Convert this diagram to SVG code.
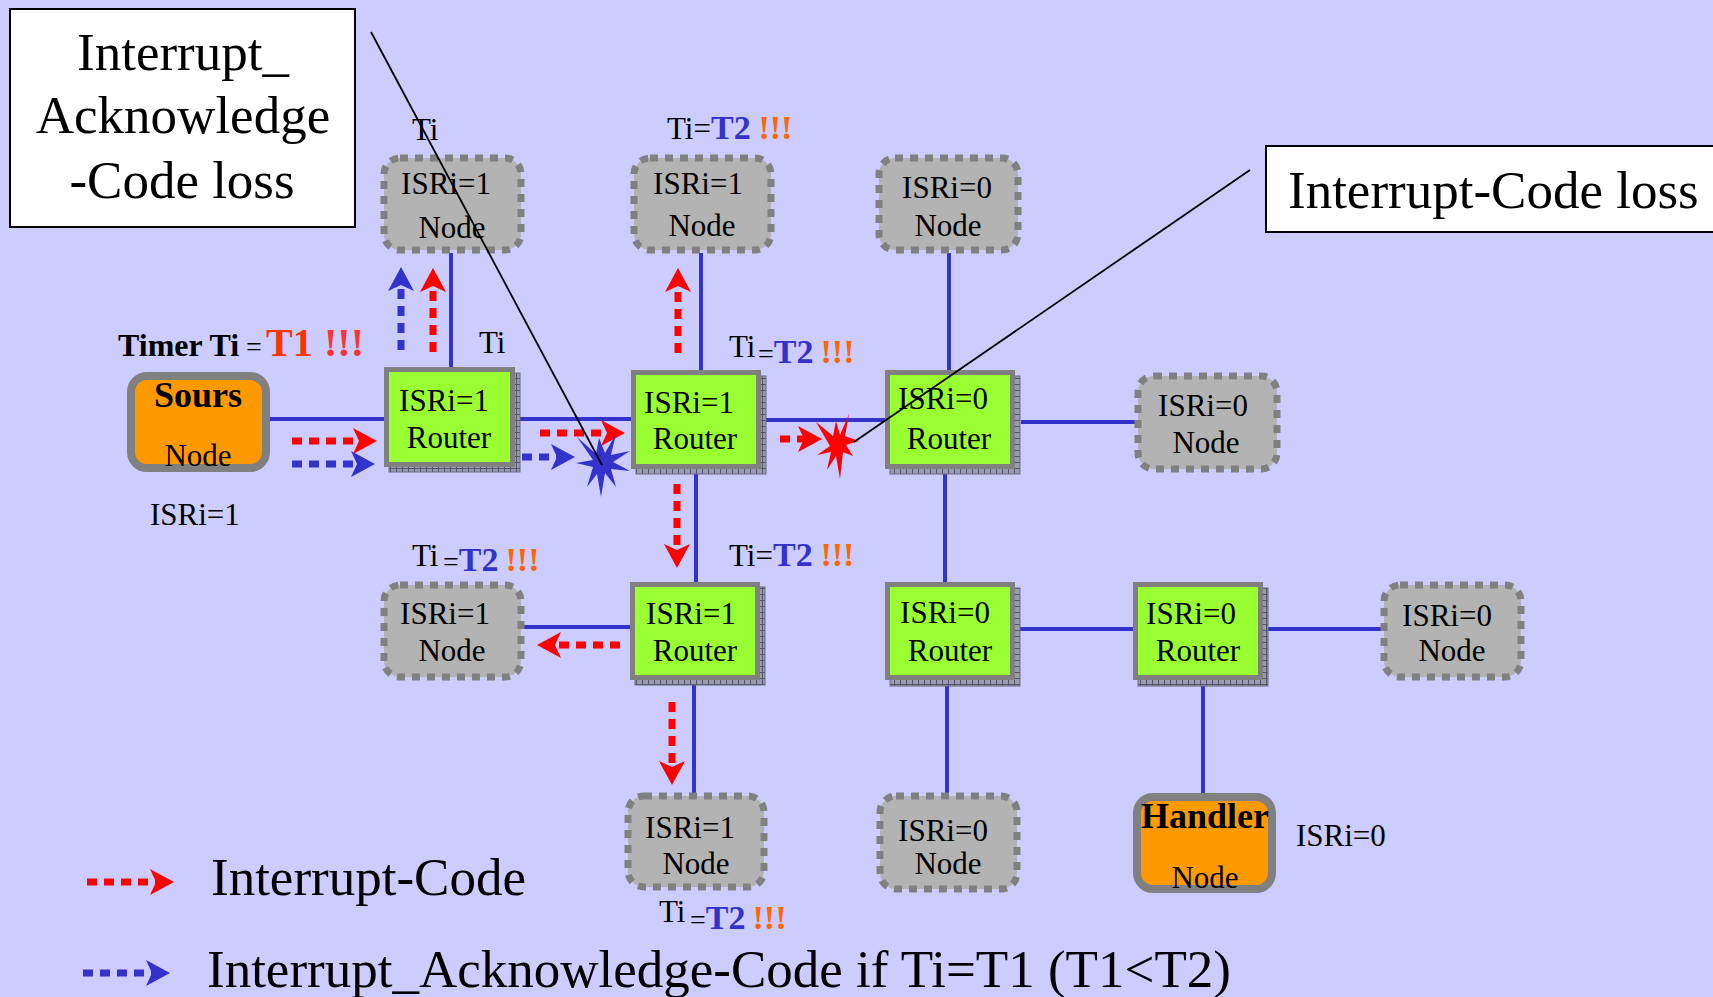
<svg xmlns="http://www.w3.org/2000/svg" width="1713" height="997" viewBox="0 0 1713 997">
<style>
text{font-family:"Liberation Serif","Times New Roman",serif;fill:#000}
.big{font-size:53px}
.t31{font-size:31px}
.bold{font-weight:bold}
.gnode{fill:#b3b3b3;stroke:#808080;stroke-width:7;stroke-dasharray:8 7}
.router{fill:#99ff33;stroke:#808080;stroke-width:5}
.shadow{fill:url(#grid);stroke:#6a6a80;stroke-width:1}
.onode{fill:#ff9900;stroke:#808080;stroke-width:8}
.link{stroke:#3333cc;stroke-width:4;fill:none}
.ra{stroke:#ff0000;stroke-width:7;stroke-dasharray:10 7;fill:none;marker-end:url(#ahR)}
.ba{stroke:#3333cc;stroke-width:7;stroke-dasharray:10 7;fill:none;marker-end:url(#ahB)}
.call{stroke:#000;stroke-width:1.8;fill:none}
.box{fill:#fff;stroke:#000;stroke-width:2}
.blue{fill:#3333cc;font-weight:bold}
.orange{fill:#ff6600;font-weight:bold}
</style>
<defs>
<pattern id="grid" width="6" height="6" patternUnits="userSpaceOnUse">
<rect width="6" height="6" fill="#9a9ab0"/>
<path d="M0,0.5H6M0.5,0V6" stroke="#55556a" stroke-width="1"/>
</pattern>
<marker id="ahR" viewBox="0 0 24 26" markerWidth="24" markerHeight="26" refX="6" refY="13" orient="auto" markerUnits="userSpaceOnUse">
<path d="M0,0 L24,13 L0,26 L6,13 Z" fill="#ff0000"/>
</marker>
<marker id="ahB" viewBox="0 0 24 26" markerWidth="24" markerHeight="26" refX="6" refY="13" orient="auto" markerUnits="userSpaceOnUse">
<path d="M0,0 L24,13 L0,26 L6,13 Z" fill="#3333cc"/>
</marker>
</defs>
<rect width="1713" height="997" fill="#ccccff"/>

<g id="connectors">
<path class="link" d="M270,419H384"/>
<path class="link" d="M515,419H631"/>
<path class="link" d="M761,420H885"/>
<path class="link" d="M1021,422H1136"/>
<path class="link" d="M451,253V367"/>
<path class="link" d="M701,253V370"/>
<path class="link" d="M949,253V370"/>
<path class="link" d="M696,468V582"/>
<path class="link" d="M524,627H630"/>
<path class="link" d="M694,678V793"/>
<path class="link" d="M945,468V582"/>
<path class="link" d="M947,680V795"/>
<path class="link" d="M1015,629H1133"/>
<path class="link" d="M1267,629H1381"/>
<path class="link" d="M1203,680V793"/>
</g>

<g id="node-sours">
<rect class="onode" x="131" y="376" width="135" height="92" rx="16"/>
<text x="198" y="407" text-anchor="middle" class="bold" font-size="36">Sours</text>
<text x="198" y="466" text-anchor="middle" class="t31">Node</text>
</g>
<g id="node-n1">
<rect class="gnode" x="384" y="158" width="137" height="92" rx="16"/>
<text x="446" y="194" text-anchor="middle" class="t31">ISRi=1</text>
<text x="452" y="238" text-anchor="middle" class="t31">Node</text>
</g>
<g id="node-n2">
<rect class="gnode" x="634" y="158" width="137" height="92" rx="16"/>
<text x="698" y="194" text-anchor="middle" class="t31">ISRi=1</text>
<text x="702" y="236" text-anchor="middle" class="t31">Node</text>
</g>
<g id="node-n3">
<rect class="gnode" x="879" y="158" width="139" height="92" rx="16"/>
<text x="947" y="198" text-anchor="middle" class="t31">ISRi=0</text>
<text x="948" y="236" text-anchor="middle" class="t31">Node</text>
</g>
<g id="node-r1">
<rect class="shadow" x="389" y="373" width="131" height="99"/>
<rect class="router" x="386.5" y="369.5" width="126" height="95"/>
<text x="444" y="411" text-anchor="middle" class="t31">ISRi=1</text>
<text x="449" y="448" text-anchor="middle" class="t31">Router</text>
</g>
<g id="node-r2">
<rect class="shadow" x="636" y="376" width="130" height="98"/>
<rect class="router" x="633.5" y="372.5" width="125" height="94"/>
<text x="689" y="413" text-anchor="middle" class="t31">ISRi=1</text>
<text x="695" y="449" text-anchor="middle" class="t31">Router</text>
</g>
<g id="node-r3">
<rect class="shadow" x="890" y="376" width="130" height="98"/>
<rect class="router" x="887.5" y="372.5" width="125" height="94"/>
<text x="943" y="409" text-anchor="middle" class="t31">ISRi=0</text>
<text x="949" y="449" text-anchor="middle" class="t31">Router</text>
</g>
<g id="node-n4">
<rect class="gnode" x="1138" y="376" width="139" height="93" rx="16"/>
<text x="1203" y="416" text-anchor="middle" class="t31">ISRi=0</text>
<text x="1206" y="453" text-anchor="middle" class="t31">Node</text>
</g>
<g id="node-n5">
<rect class="gnode" x="384" y="585" width="137" height="92" rx="16"/>
<text x="445" y="624" text-anchor="middle" class="t31">ISRi=1</text>
<text x="452" y="661" text-anchor="middle" class="t31">Node</text>
</g>
<g id="node-r4">
<rect class="shadow" x="635" y="587" width="130" height="98"/>
<rect class="router" x="632.5" y="584.5" width="125" height="93"/>
<text x="691" y="624" text-anchor="middle" class="t31">ISRi=1</text>
<text x="695" y="661" text-anchor="middle" class="t31">Router</text>
</g>
<g id="node-r5">
<rect class="shadow" x="890" y="588" width="130" height="98"/>
<rect class="router" x="887.5" y="584.5" width="125" height="93"/>
<text x="945" y="623" text-anchor="middle" class="t31">ISRi=0</text>
<text x="950" y="661" text-anchor="middle" class="t31">Router</text>
</g>
<g id="node-r6">
<rect class="shadow" x="1138" y="588" width="130" height="98"/>
<rect class="router" x="1135.5" y="584.5" width="125" height="93"/>
<text x="1191" y="624" text-anchor="middle" class="t31">ISRi=0</text>
<text x="1198" y="661" text-anchor="middle" class="t31">Router</text>
</g>
<g id="node-n6">
<rect class="gnode" x="1384" y="585" width="137" height="92" rx="16"/>
<text x="1447" y="626" text-anchor="middle" class="t31">ISRi=0</text>
<text x="1452" y="661" text-anchor="middle" class="t31">Node</text>
</g>
<g id="node-n7">
<rect class="gnode" x="628" y="796" width="136" height="91" rx="16"/>
<text x="690" y="838" text-anchor="middle" class="t31">ISRi=1</text>
<text x="696" y="874" text-anchor="middle" class="t31">Node</text>
</g>
<g id="node-n8">
<rect class="gnode" x="880" y="796" width="137" height="93" rx="16"/>
<text x="943" y="841" text-anchor="middle" class="t31">ISRi=0</text>
<text x="948" y="874" text-anchor="middle" class="t31">Node</text>
</g>
<g id="node-handler">
<rect class="onode" x="1137" y="797" width="135" height="92" rx="16"/>
<text x="1205" y="828" text-anchor="middle" class="bold" font-size="36">Handler</text>
<text x="1205" y="888" text-anchor="middle" class="t31">Node</text>
</g>

<g id="flows">
<path class="ra" d="M292,441H359"/>
<path class="ba" d="M292,464H357"/>
<path class="ba" d="M401,350V285"/>
<path class="ra" d="M433,352V286"/>
<path class="ra" d="M540,433H607"/>
<path class="ba" d="M522,457H557"/>
<path class="ra" d="M678,353V286"/>
<path class="ra" d="M780,439H804"/>
<path class="ra" d="M677,484V550"/>
<path class="ra" d="M620,645H555"/>
<path class="ra" d="M672,702V767"/>
</g>

<g id="collisions">
<polygon fill="#3333cc" points="577,437 596,454 599,438 605,453 616,434 611,455 630,451 613,462 630,471 611,469 616,487 605,473 601,497 597,474 587,487 593,467 576,463 593,460"/>
<polygon fill="#ff0000" points="816,422 833,436 836,421 840,435 849,414 845,436 859,441 846,445 853,456 843,452 840,479 836,456 827,470 831,452 817,455 830,446"/>
</g>

<g id="callout-ack">
<rect class="box" x="10" y="9" width="345" height="218"/>
<text x="183" y="70" text-anchor="middle" class="big">Interrupt_</text>
<text x="183" y="133" text-anchor="middle" class="big">Acknowledge</text>
<text x="182" y="198" text-anchor="middle" class="big">-Code loss</text>
<path class="call" d="M371,32L602,465"/>
</g>
<g id="callout-int">
<rect class="box" x="1266" y="146" width="460" height="86"/>
<text x="1288" y="208" class="big">Interrupt-Code loss</text>
<path class="call" d="M1250,170L854,442"/>
</g>

<g id="labels">
<text x="412" y="140" class="t31">Ti</text>
<text x="479" y="353" class="t31">Ti</text>
<text x="118" y="356" class="bold" font-size="32">Timer Ti</text>
<text x="246" y="356" font-size="28">=</text>
<text x="266" y="356" class="bold" font-size="40" style="fill:#ff3300">T1</text>
<text x="324" y="356" class="bold" font-size="40" style="fill:#ff3333">!!!</text>
<text x="667" y="139" class="t31">Ti=<tspan class="blue" font-size="34">T2</tspan> <tspan class="orange" font-size="34">!!!</tspan></text>
<text x="729" y="357" class="t31">Ti</text>
<text x="758" y="363" font-size="28">=<tspan class="blue" font-size="34">T2</tspan> <tspan class="orange" font-size="34">!!!</tspan></text>
<text x="412" y="566" class="t31">Ti</text>
<text x="443" y="571" font-size="28">=<tspan class="blue" font-size="34">T2</tspan> <tspan class="orange" font-size="34">!!!</tspan></text>
<text x="729" y="566" class="t31">Ti=<tspan class="blue" font-size="34">T2</tspan> <tspan class="orange" font-size="34">!!!</tspan></text>
<text x="659" y="922" class="t31">Ti</text>
<text x="690" y="929" font-size="28">=<tspan class="blue" font-size="34">T2</tspan> <tspan class="orange" font-size="34">!!!</tspan></text>
<text x="150" y="525" class="t31">ISRi=1</text>
<text x="1296" y="846" class="t31">ISRi=0</text>
</g>

<g id="legend">
<path class="ra" d="M87,882H156"/>
<text x="211" y="895" class="big">Interrupt-Code</text>
<path class="ba" d="M83,973H152"/>
<text x="207" y="987" class="big">Interrupt_Acknowledge-Code if Ti=T1 (T1&lt;T2)</text>
</g>
</svg>
